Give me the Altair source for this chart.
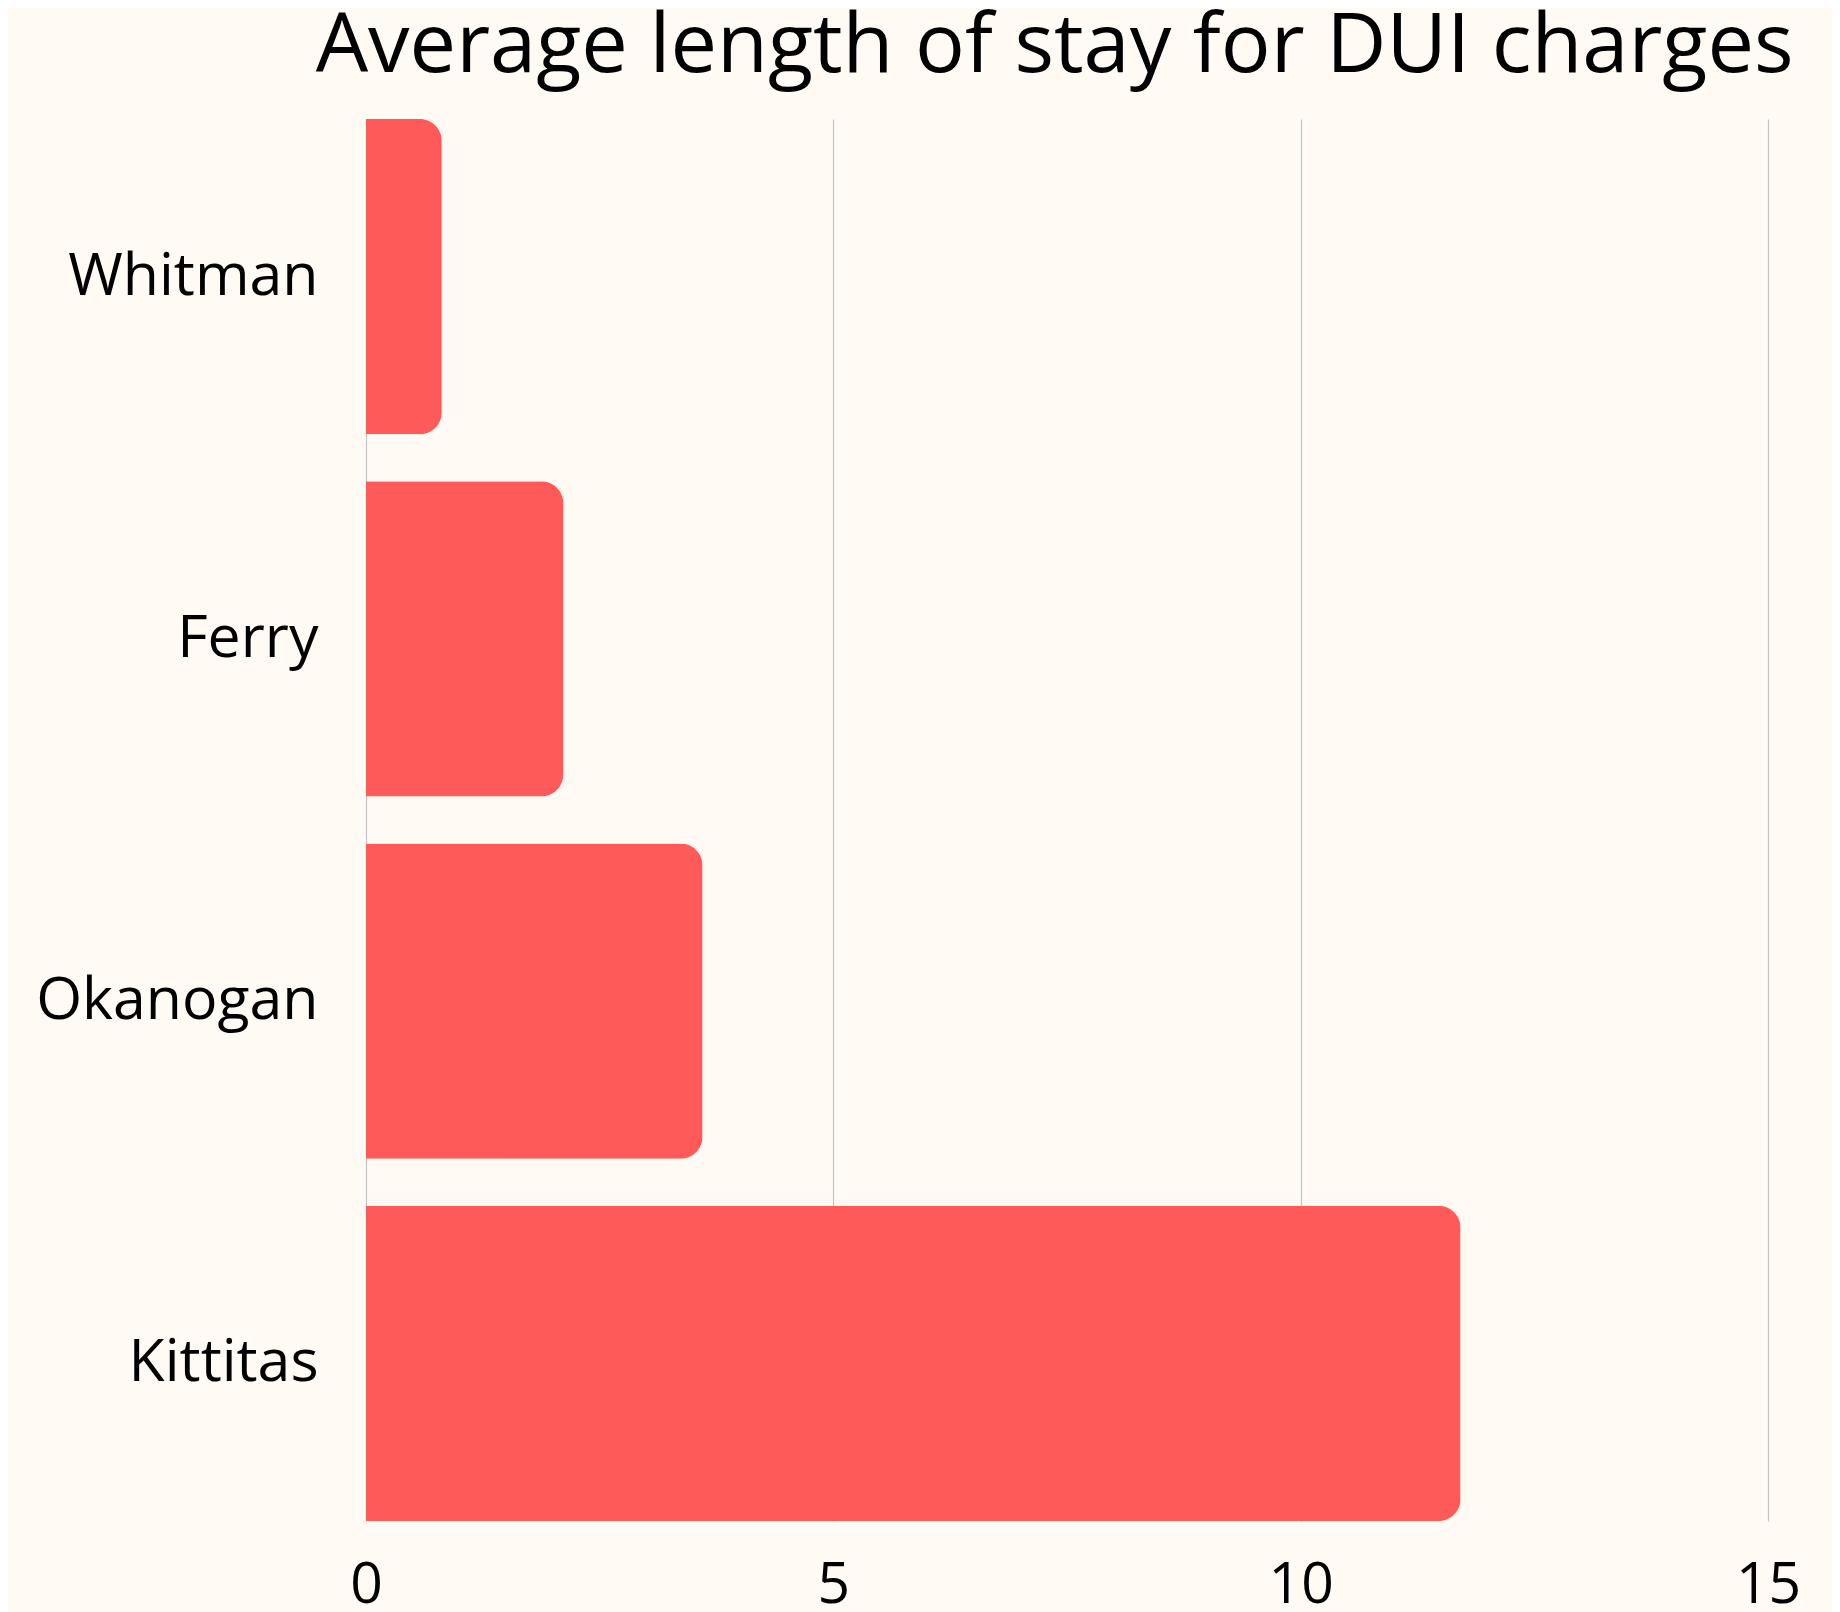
import altair as alt
import pandas as pd

counties = ["Whitman", "Ferry", "Okanogan", "Kittitas"]
avg_stay = [0.81, 2.11, 3.60, 11.71]
x_ticks = [0, 5, 10, 15]

df = pd.DataFrame({"county": counties, "stay": avg_stay})

FONT = "Open Sans"

chart = alt.Chart(df).mark_bar(
    color="#ff5a5a",
    cornerRadiusEnd=22,
).encode(
    x=alt.X(
        "stay:Q",
        scale=alt.Scale(domain=[0, 15], nice=False),
        axis=alt.Axis(
            values=x_ticks,
            title=None,
            domain=False,
            ticks=False,
            grid=True,
            gridColor="#c4c4c4",
            gridWidth=1.2,
            labelFontSize=57,
            labelFont=FONT,
            labelColor="#000000",
            labelPadding=36,
            labelFlush=False,
            labelLimit=0,
        ),
    ),
    y=alt.Y(
        "county:N",
        sort=counties,
        scale=alt.Scale(paddingInner=0.13, paddingOuter=0),
        axis=alt.Axis(
            title=None,
            domain=False,
            ticks=False,
            grid=False,
            labelFontSize=59,
            labelFont=FONT,
            labelColor="#000000",
            labelPadding=48,
            labelLimit=0,
        ),
    ),
).properties(
    width=1402,
    height=1402,
    title=alt.TitleParams(
        "Average length of stay for DUI charges",
        anchor="end",
        fontSize=83,
        font=FONT,
        fontWeight="normal",
        color="#000000",
        offset=30,
        dx=-7,
    ),
    background="#fffaf3",
    autosize=alt.AutoSizeParams(type="none"),
    padding={"left": 358, "top": 111, "right": 64, "bottom": 110},
).configure_view(stroke=None)

chart.save("out.html", embed_options={"renderer": "svg", "actions": False})
